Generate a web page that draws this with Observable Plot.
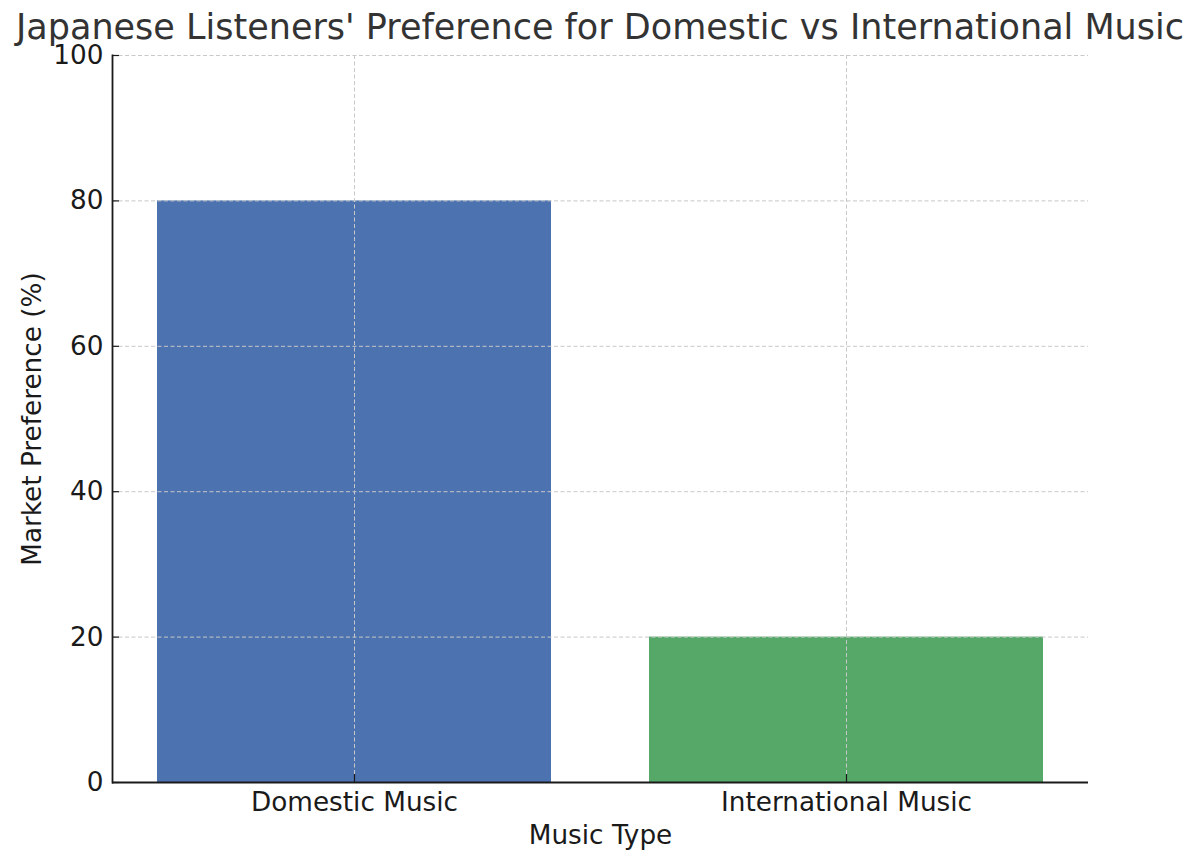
<!DOCTYPE html>
<html>
<head>
<meta charset="utf-8">
<script src="https://cdn.jsdelivr.net/npm/d3@7"></script>
<script src="https://cdn.jsdelivr.net/npm/@observablehq/plot@0.6"></script>
<style>
  html, body { margin: 0; padding: 0; background: white; }
  #wrap { width: 1200px; position: relative; font-family: "DejaVu Sans", sans-serif; }
  #title { height: 40px; position: relative; z-index: 2; }
  #title span { position: absolute; left: 0; right: 0; top: 13px; height: 28px; text-align: center; font-size: 35px; line-height: 28px; color: #333; white-space: nowrap; }
  #chart svg { display: block; }
</style>
</head>
<body>
<div id="wrap">
  <div id="title"><span>Japanese Listeners' Preference for Domestic vs International Music</span></div>
  <div id="chart"></div>
</div>
<script>
const categories = ["Domestic Music", "International Music"];
const values = [80, 20];
const barColors = ["#4C72B0", "#55A868"];
const yTicks = [0, 20, 40, 60, 80, 100];
const xLabel = "Music Type";
const yLabel = "Market Preference (%)";

const data = categories.map((c, i) => ({type: c, value: values[i], color: barColors[i]}));

const W = 1200, H = 827, mT = 15, mB = 85, mL = 112, mR = 112;
const plotW = W - mL - mR, plotH = H - mT - mB;
const grid = {stroke: "#c8c8c8", strokeOpacity: 1, strokeWidth: 1, strokeDasharray: "4,2.5"};
const txt = "#1a1a1a";
const fs = 26.3;

const chart = Plot.plot({
  width: W, height: H,
  marginTop: mT, marginBottom: mB, marginLeft: mL, marginRight: mR,
  style: {fontFamily: "DejaVu Sans, sans-serif", background: "transparent"},
  x: {type: "band", domain: categories, paddingInner: 0.2, paddingOuter: 0.09, label: null},
  y: {domain: [0, 100], label: null},
  color: {type: "identity"},
  marks: [
    Plot.barY(data, {x: "type", y: "value", fill: "color"}),
    Plot.gridX(categories, {...grid}),
    Plot.gridY(yTicks, {...grid}),
    Plot.tickY(yTicks, {y: d => d, stroke: txt, strokeWidth: 1.2, insetRight: plotW - 7}),
    Plot.tickX(categories, {x: d => d, stroke: txt, strokeWidth: 1.2, insetTop: plotH - 8}),
    Plot.frame({anchor: "left", stroke: txt, strokeWidth: 1.8}),
    Plot.ruleY([0], {stroke: txt, strokeWidth: 1.8}),
    Plot.axisY(yTicks, {tickSize: 0, tickPadding: 9, fontSize: fs, fill: txt, label: null}),
    Plot.axisX(categories, {tickSize: 0, tickPadding: 10, fontSize: fs, fill: txt, label: null}),
    Plot.text([xLabel], {frameAnchor: "bottom", dy: 61, fontSize: fs, fill: txt}),
    Plot.text([yLabel], {frameAnchor: "left", textAnchor: "middle", dx: -80, rotate: -90, fontSize: fs, fill: txt})
  ]
});
document.getElementById("chart").appendChild(chart);
</script>
</body>
</html>
